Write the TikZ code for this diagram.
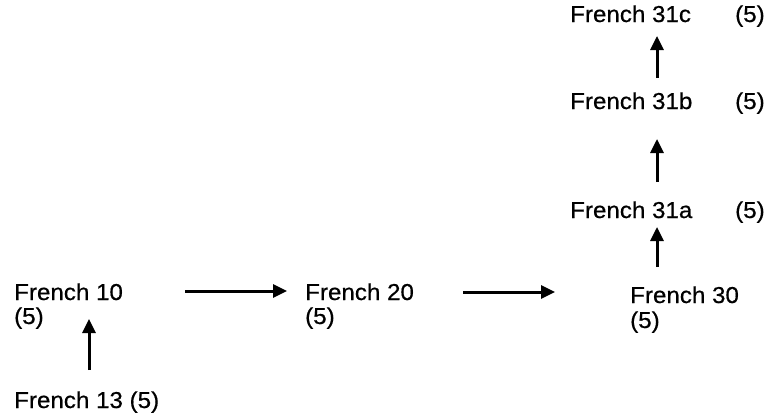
\documentclass[tikz,border=0pt]{standalone}
\usepackage{fontspec}
\setmainfont{Liberation Sans}[FakeStretch=1.05,FakeBold=0.6]
\usetikzlibrary{arrows.meta}
\begin{document}
\begin{tikzpicture}[x=1pt,y=-1pt,
  lbl/.style={anchor=base west,inner sep=0pt,font=\fontsize{23}{26}\selectfont},
  arr/.style={line width=3pt,-{Triangle[length=14pt,width=13pt]}}]
\useasboundingbox (0,0) rectangle (776,416);
% labels
\node[lbl] (f10)  at (14,300) {French 10};
\node[lbl] (f10c) at (14,324) {(5)};
\node[lbl] (f20)  at (305,300) {French 20};
\node[lbl] (f20c) at (305,324) {(5)};
\node[lbl] (f30)  at (630,303) {French 30};
\node[lbl] (f30c) at (630,328) {(5)};
\node[lbl] (f13)  at (14,408) {French 13 (5)};
\node[lbl] (f31a)  at (570,218) {French 31a};
\node[lbl] (f31ac) at (735,218) {(5)};
\node[lbl] (f31b)  at (570,109) {French 31b};
\node[lbl] (f31bc) at (735,109) {(5)};
\node[lbl] (f31c)  at (570,22) {French 31c};
\node[lbl] (f31cc) at (735,22) {(5)};
% connector ends
\coordinate (a1s) at (89,370);  \coordinate (a1e) at (89,319);
\coordinate (a2s) at (185,291); \coordinate (a2e) at (287,291);
\coordinate (a3s) at (463,292); \coordinate (a3e) at (555,292);
\coordinate (a4s) at (657,267); \coordinate (a4e) at (657,227);
\coordinate (a5s) at (657,182); \coordinate (a5e) at (657,139);
\coordinate (a6s) at (657,78);  \coordinate (a6e) at (657,36);
\draw[arr] (a1s) -- (a1e);
\draw[arr] (a2s) -- (a2e);
\draw[arr] (a3s) -- (a3e);
\draw[arr] (a4s) -- (a4e);
\draw[arr] (a5s) -- (a5e);
\draw[arr] (a6s) -- (a6e);
\end{tikzpicture}
\end{document}
